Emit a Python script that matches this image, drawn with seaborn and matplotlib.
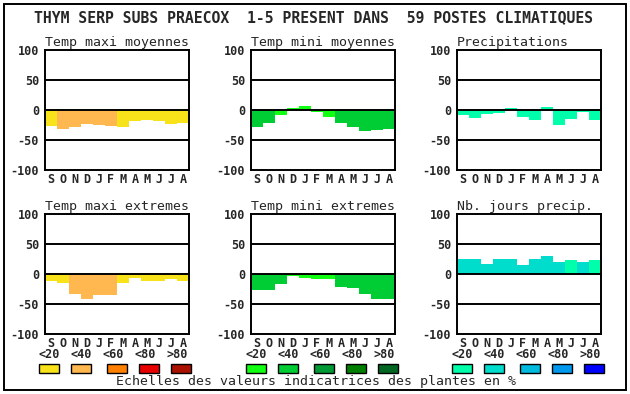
import matplotlib
matplotlib.use("Agg")
import matplotlib.pyplot as plt
import seaborn as sns
import pandas as pd
from matplotlib.patches import Rectangle

# ---------------- data ----------------
months = ["S", "O", "N", "D", "J", "F", "M", "A", "M", "J", "J", "A"]
main_title = "THYM SERP SUBS PRAECOX  1-5 PRESENT DANS  59 POSTES CLIMATIQUES"
footer = "Echelles des valeurs indicatrices des plantes en %"
panel_titles = ["Temp maxi moyennes", "Temp mini moyennes", "Precipitations",
                "Temp maxi extremes", "Temp mini extremes", "Nb. jours precip."]
yticks = [-100, -50, 0, 50, 100]
scale_labels = ["<20", "<40", "<60", "<80", ">80"]

maxi_moy = [-26, -32, -28, -23, -25, -27, -28, -18, -17, -18, -23, -22]
maxi_moy_cls = [0, 1, 1, 1, 1, 1, 0, 0, 0, 0, 0, 0]
mini_moy = [-28, -22, -8, 3, 7, -3, -12, -22, -28, -35, -33, -32]
mini_moy_cls = [1, 1, 0, 0, 0, 0, 0, 1, 1, 1, 1, 1]
precip = [-8, -13, -7, -5, 3, -12, -17, 5, -25, -15, -3, -17]
precip_cls = [0] * 12
maxi_ext = [-11, -15, -33, -42, -35, -35, -15, -7, -11, -11, -8, -11]
maxi_ext_cls = [0, 0, 1, 1, 1, 1, 0, 0, 0, 0, 0, 0]
mini_ext = [-26, -26, -17, -3, -6, -8, -8, -22, -23, -33, -42, -42]
mini_ext_cls = [1, 1, 1, 0, 0, 0, 0, 1, 1, 1, 1, 1]
nb_jours = [25, 25, 17, 25, 25, 15, 25, 30, 20, 23, 20, 23]
nb_jours_cls = [1, 1, 1, 1, 1, 1, 1, 1, 1, 0, 1, 0]

pal_maxi = ["#F8E31A", "#FFB84F", "#FF7F00", "#E80000", "#AA1100"]
pal_mini = ["#11FF11", "#00CC33", "#009933", "#007F00", "#006622"]
pal_prec = ["#00FFAA", "#00DDCC", "#00BBDD", "#0099EE", "#0000FF"]

panels = [
    (maxi_moy, maxi_moy_cls, pal_maxi),
    (mini_moy, mini_moy_cls, pal_mini),
    (precip, precip_cls, pal_prec),
    (maxi_ext, maxi_ext_cls, pal_maxi),
    (mini_ext, mini_ext_cls, pal_mini),
    (nb_jours, nb_jours_cls, pal_prec),
]

# ---------------- layout ----------------
sns.set_style("white")
plt.rcParams["font.family"] = ["DejaVu Sans Mono", "DejaVu Sans"]

W, H = 630, 394
fig = plt.figure(figsize=(W / 100, H / 100), dpi=100)
fig.patch.set_facecolor("white")


def fx(px):
    return px / W


def fy(py):
    return 1 - py / H


col_left = [45, 251, 457]
row_top = [50, 214]
aw, ah = 144, 120
mono = "DejaVu Sans Mono"

for i, (vals, cls, pal) in enumerate(panels):
    r, c = divmod(i, 3)
    ax = fig.add_axes([fx(col_left[c]), fy(row_top[r] + ah), aw / W, ah / H])
    df = pd.DataFrame({"m": list(range(12)), "v": vals, "c": cls})
    used = sorted(set(cls))
    sns.barplot(data=df, x="m", y="v", hue="c",
                palette={k: pal[k] for k in used}, dodge=False, width=1.0,
                saturation=1, errorbar=None, legend=False, ax=ax,
                linewidth=0, edgecolor="none", zorder=1)
    for yv in (50, 0, -50):
        ax.axhline(yv, color="black", lw=1.4, zorder=3)
    ax.set_xlim(-0.5, 11.5)
    ax.set_ylim(-100, 100)
    ax.set_yticks(yticks)
    ax.set_yticklabels([str(t) for t in yticks], fontfamily=mono,
                       fontweight="bold", fontsize=8.5)
    ax.set_xticks(range(12))
    ax.set_xticklabels(months, fontfamily=mono, fontweight="bold", fontsize=8.5)
    ax.tick_params(axis="y", length=0, pad=4.3)
    ax.tick_params(axis="x", length=0, pad=2)
    ax.set_xlabel("")
    ax.set_ylabel("")
    for s in ax.spines.values():
        s.set_visible(True)
        s.set_color("black")
        s.set_linewidth(1.4)
        s.set_zorder(4)
    ax.set_title(panel_titles[i], loc="left", fontfamily=mono,
                 fontsize=9.5, pad=3)

# main title
fig.text(fx(314), fy(18), main_title, ha="center", va="center",
         fontfamily=mono, fontsize=10.6, fontweight="bold")

# legend scales
group_left = [39, 246, 452]
box_off = [0, 32, 68, 100, 132]
lab_off = [0, 32, 64, 96, 128]
pals = [pal_maxi, pal_mini, pal_prec]
for g in range(3):
    for k in range(5):
        fig.text(fx(group_left[g] + lab_off[k] + 10), fy(355), scale_labels[k],
                 ha="center", va="center", fontfamily=mono,
                 fontweight="bold", fontsize=8.5)
        fig.patches.append(Rectangle((fx(group_left[g] + box_off[k]), fy(373)),
                                     20 / W, 9 / H, transform=fig.transFigure,
                                     facecolor=pals[g][k], edgecolor="black",
                                     linewidth=1.0))

fig.text(fx(316), fy(382), footer, ha="center", va="center",
         fontfamily=mono, fontsize=9.5)

# outer border
fig.patches.append(Rectangle((fx(4), fy(390)), 622 / W, 386 / H,
                             transform=fig.transFigure, fill=False,
                             edgecolor="black", linewidth=1.4))

fig.savefig("out.png", dpi=100, facecolor="white")
